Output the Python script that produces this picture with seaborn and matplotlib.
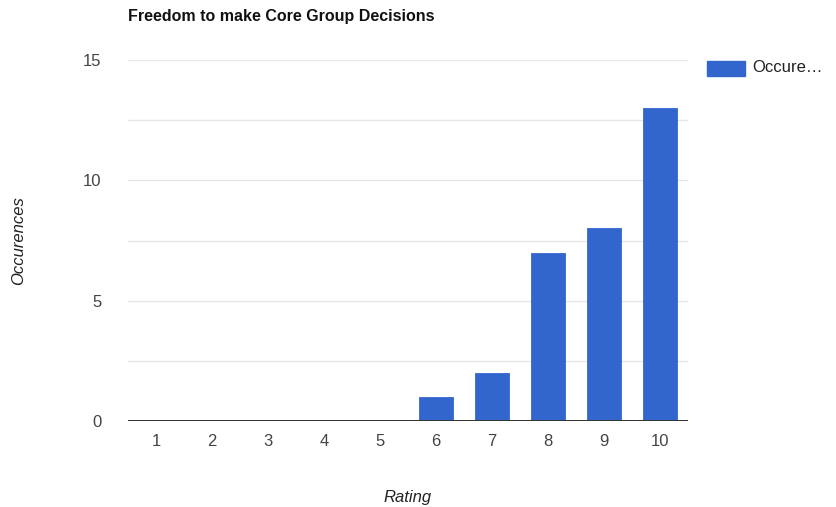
import matplotlib
matplotlib.use("Agg")
import matplotlib.pyplot as plt
import seaborn as sns
import pandas as pd

ratings = ["1", "2", "3", "4", "5", "6", "7", "8", "9", "10"]
occurrences = [0, 0, 0, 0, 0, 1, 2, 7, 8, 13]
y_ticks = [0, 5, 10, 15]

sns.set_theme(style="white")
plt.rcParams["font.family"] = ["Liberation Sans", "DejaVu Sans"]

df = pd.DataFrame({"Rating": ratings, "Occurences": occurrences})

fig = plt.figure(figsize=(8.37, 5.07), dpi=100)
ax = fig.add_axes([128 / 837, 1 - 421 / 507, 560 / 837, 361 / 507])

bar_color = "#3366CC"
sns.barplot(data=df, x="Rating", y="Occurences", color=bar_color,
            saturation=1, width=0.59, edgecolor=bar_color, linewidth=0.6,
            ax=ax, zorder=3)

ax.set_ylim(0, 15)
ax.set_xlim(-0.5, 9.5)
for g in [2.5, 5, 7.5, 10, 12.5, 15]:
    ax.axhline(g, color="#E6E6E6", linewidth=1, zorder=1)
ax.axhline(0, color="#333333", linewidth=1.4, zorder=4)

ax.set_yticks(y_ticks)
ax.set_yticklabels([str(t) for t in y_ticks])
ax.tick_params(axis="both", length=0, labelsize=12, labelcolor="#444444")
ax.tick_params(axis="y", pad=19)
ax.tick_params(axis="x", pad=9)
for s in ax.spines.values():
    s.set_visible(False)

ax.set_xlabel("Rating", fontsize=12, style="italic", color="#222222", labelpad=30)
ax.set_ylabel("Occurences", fontsize=12, style="italic", color="#222222")
ax.yaxis.set_label_coords((26 - 128) / 560, 0.5)

fig.text(128 / 837, 1 - 16 / 507, "Freedom to make Core Group Decisions",
         fontsize=11.5, fontweight="bold", color="#111111", va="center", ha="left")

# legend entry on the right
fig.patches.append(plt.Rectangle((707 / 837, 1 - 76 / 507), 38 / 837, 15 / 507,
                                 transform=fig.transFigure, color=bar_color,
                                 figure=fig))
fig.text(752 / 837, 1 - 68 / 507, "Occure…", fontsize=12, color="#222222",
         va="center", ha="left")

fig.savefig("out.png", dpi=100)
